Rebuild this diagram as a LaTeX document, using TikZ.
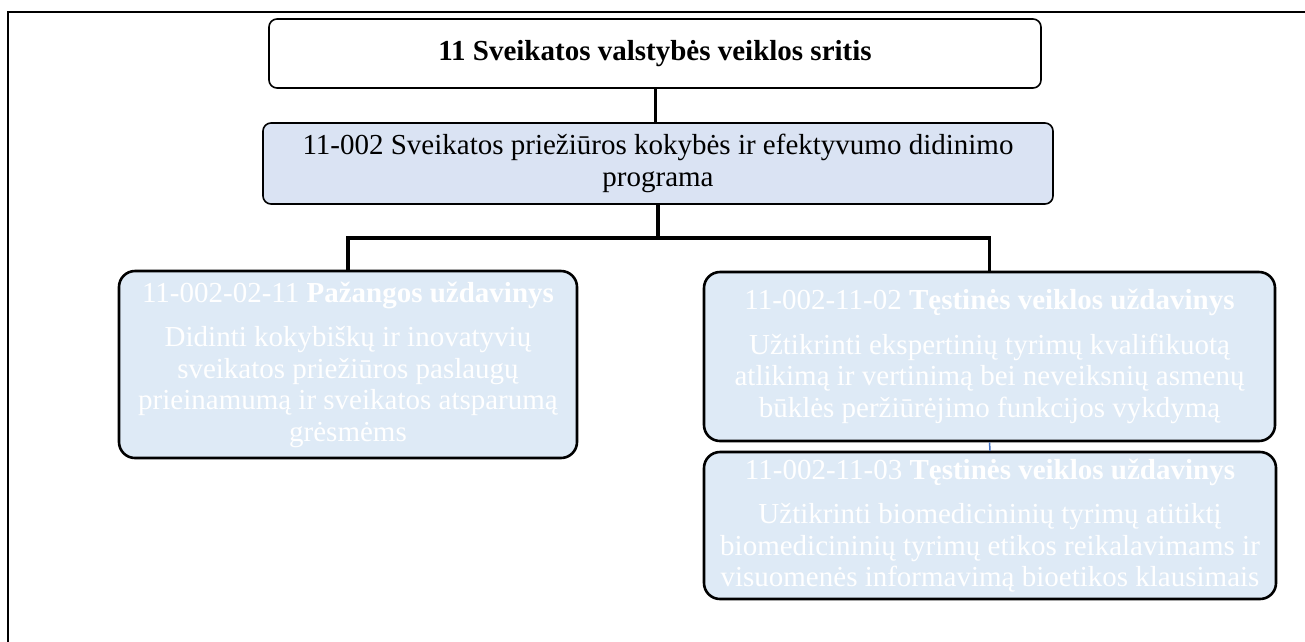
\documentclass[tikz,border=0pt]{standalone}
\usepackage{fontspec}
\setmainfont{Liberation Serif}
\definecolor{progfill}{HTML}{DAE3F3}
\definecolor{taskfill}{HTML}{DEEAF6}
\definecolor{linkblue}{HTML}{4472C4}
\tikzset{
  txt/.style={font=\fontsize{29}{31.5}\selectfont, align=center, inner sep=0pt},
  topbox/.style={txt, draw=black, line width=1.6pt, rounded corners=8pt, fill=white,
    minimum width=772pt, minimum height=69pt},
  progbox/.style={txt, draw=black, line width=1.6pt, rounded corners=8pt, fill=progfill,
    minimum width=790pt, minimum height=81pt},
  taskbox/.style={txt, draw=black, line width=2.6pt, rounded corners=16pt, fill=taskfill,
    text=white},
  conn/.style={draw=black, line width=3.4pt},
}
\begin{document}
\begin{tikzpicture}[x=1pt,y=-1pt]
\useasboundingbox (0,0) rectangle (1305,641);
% outer frame (left and top edges visible)
\draw[line width=2.2pt] (8,660) -- (8,12) -- (1320,12);
% boxes
\node[topbox] (top) at (655,53.5) {\textbf{11 Sveikatos valstybės veiklos sritis}};
\node[progbox] (prog) at (658,163.5) {11-002 Sveikatos priežiūros kokybės ir efektyvumo didinimo\\programa};
\node[taskbox, minimum width=458pt, minimum height=187pt] (left) at (348,364.5)
  {11-002-02-11 \textbf{Pažangos uždavinys}\\[13pt]
   Didinti kokybiškų ir inovatyvių\\
   sveikatos priežiūros paslaugų\\
   prieinamumą ir sveikatos atsparumą\\
   grėsmėms};
\node[taskbox, minimum width=571pt, minimum height=169pt] (r1) at (989.5,356.5)
  {11-002-11-02 \textbf{Tęstinės veiklos uždavinys}\\[13pt]
   Užtikrinti ekspertinių tyrimų kvalifikuotą\\
   atlikimą ir vertinimą bei neveiksnių asmenų\\
   būklės peržiūrėjimo funkcijos vykdymą};
\node[taskbox, minimum width=572pt, minimum height=147pt] (r2) at (990,525.5)
  {11-002-11-03 \textbf{Tęstinės veiklos uždavinys}\\[13pt]
   Užtikrinti biomedicininių tyrimų atitiktį\\
   biomedicininių tyrimų etikos reikalavimams ir\\
   visuomenės informavimą bioetikos klausimais};
% connectors
\coordinate (j) at (658,238);
\draw[draw=black, line width=3pt] (top.south) -- (top.south |- prog.north);
\draw[conn] (prog.south) -- (j);
\draw[conn] (left.north) -- (left.north |- j) -- (r1.north |- j) -- (r1.north);
\draw[draw=linkblue, line width=1.5pt] (r1.south) -- (r2.north);
\end{tikzpicture}
\end{document}
